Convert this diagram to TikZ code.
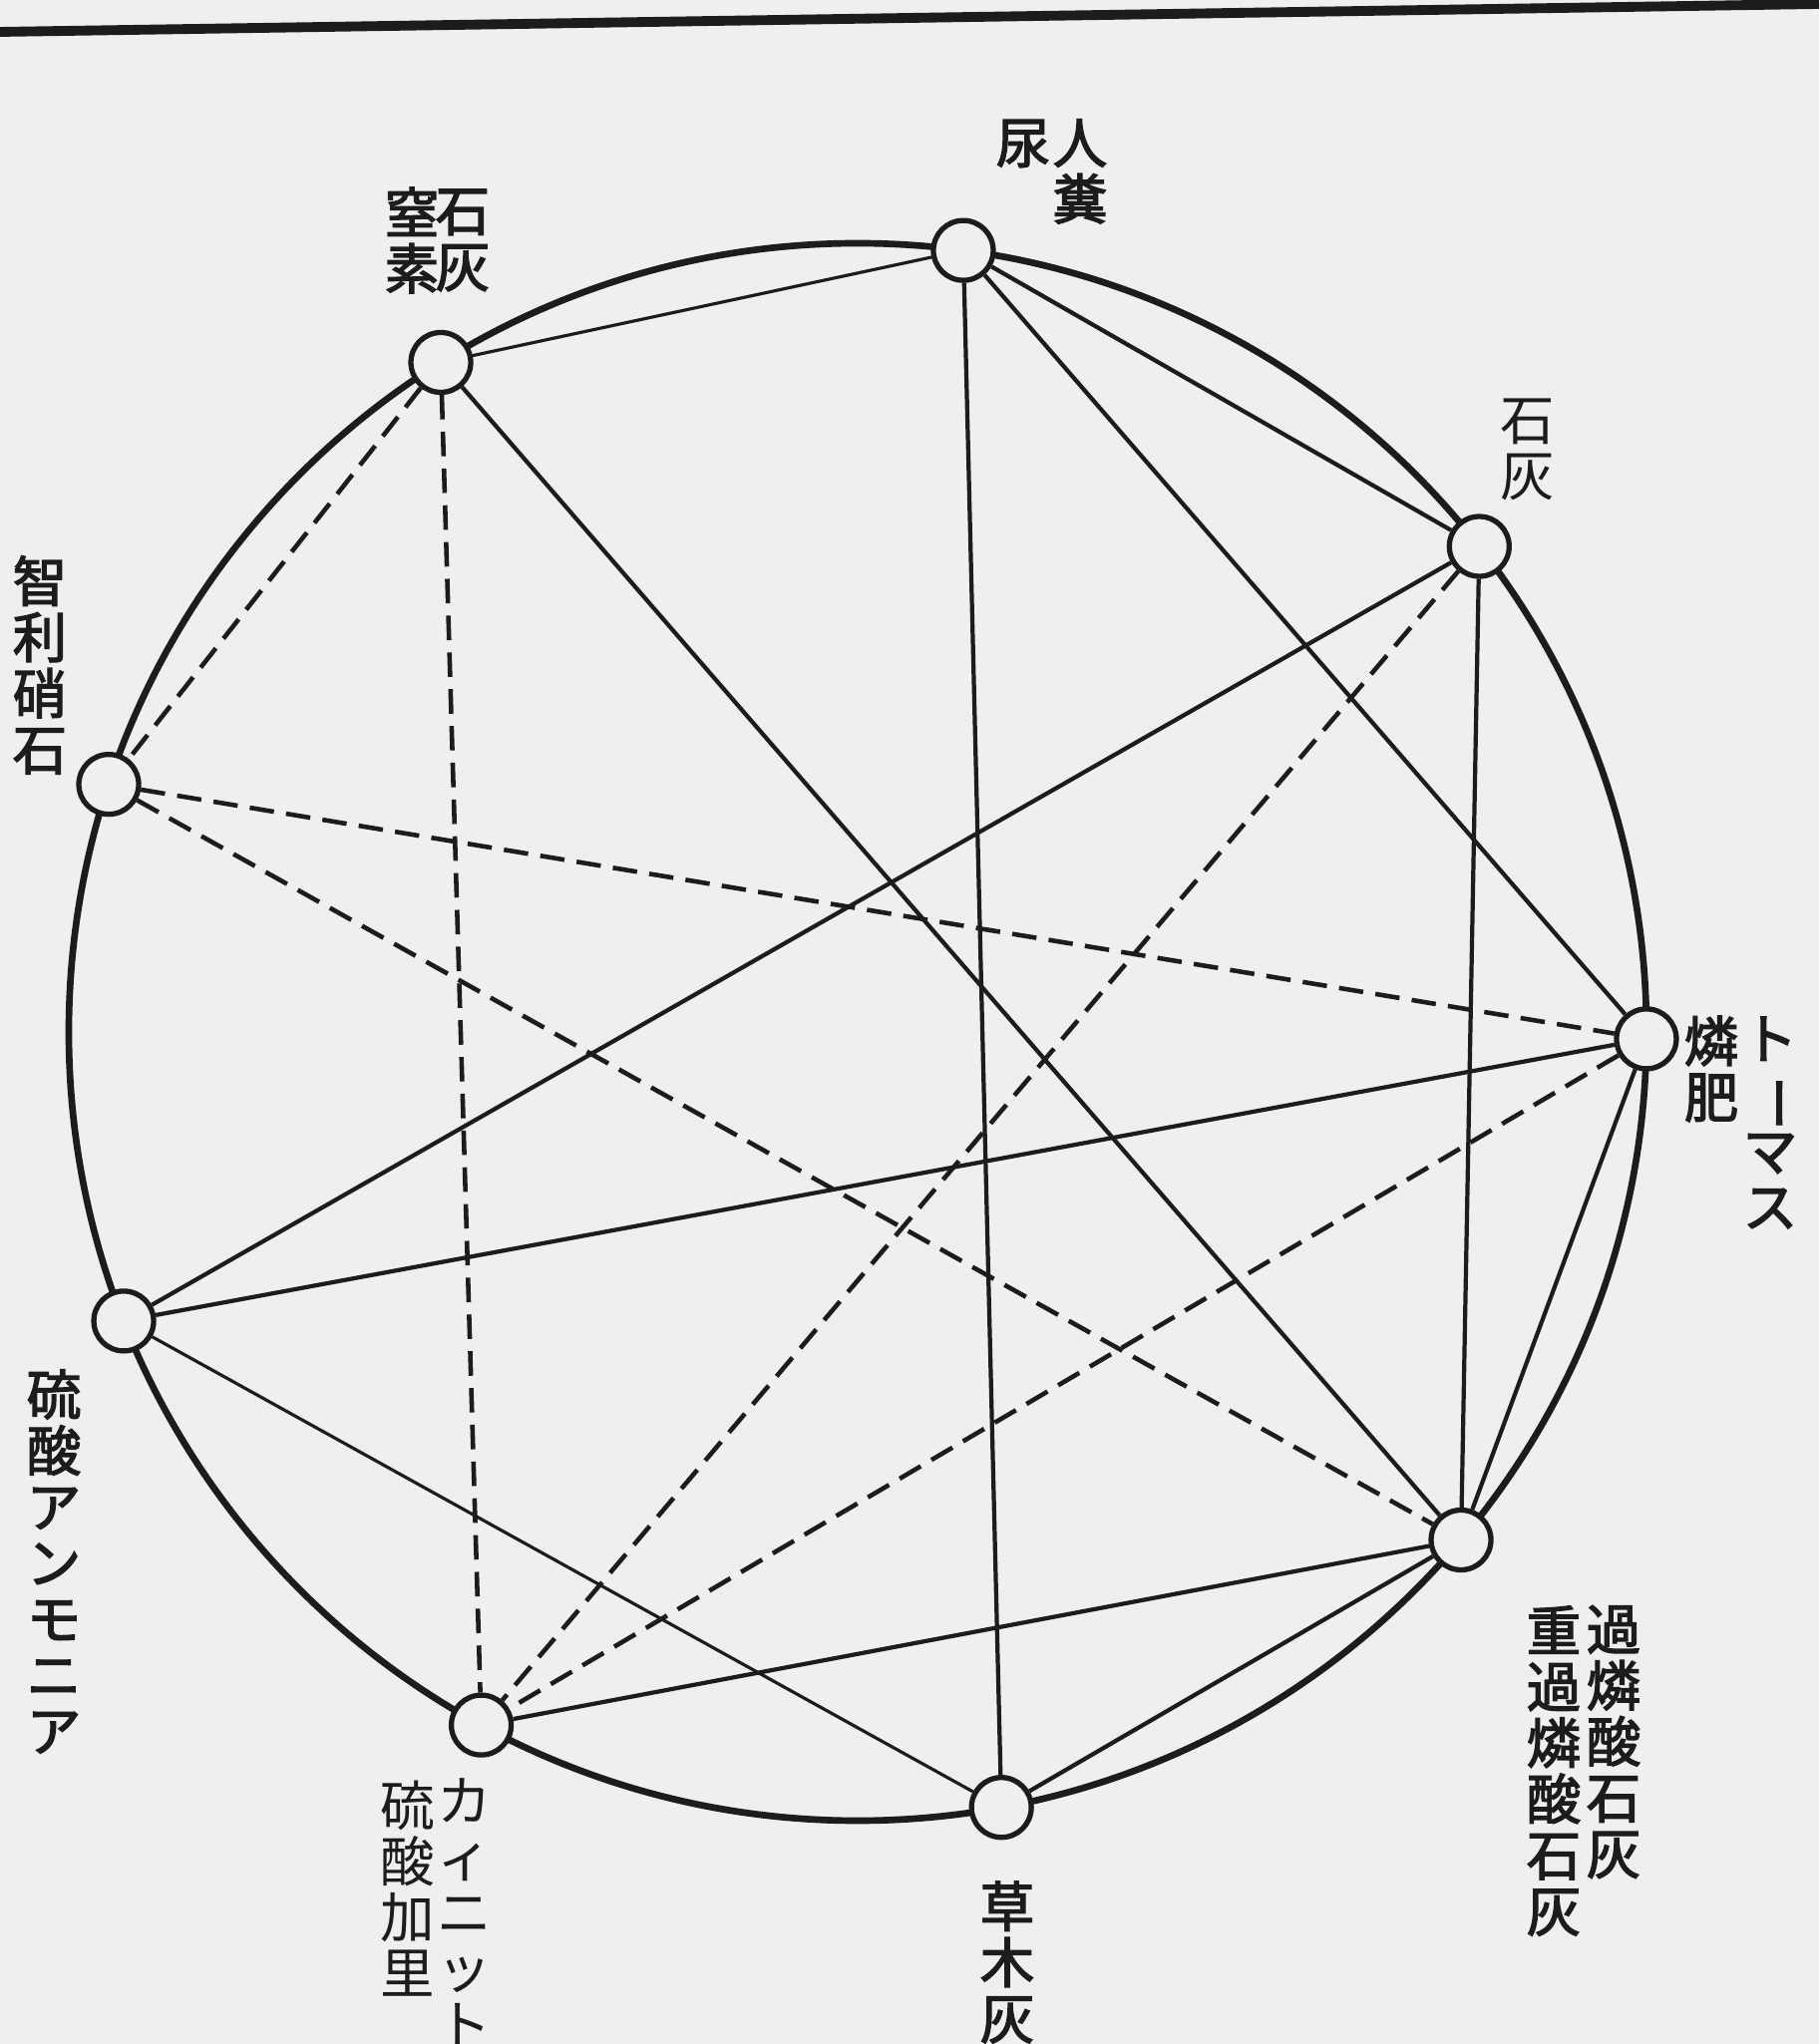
\documentclass[tikz,border=0pt]{standalone}
\usepackage{fontspec}
\newfontfamily\cjk{Noto Sans CJK JP}
\newfontfamily\cjkb[FakeBold=2.5]{Noto Sans CJK JP}
\usetikzlibrary{positioning}
\definecolor{paper}{RGB}{239,239,237}
\definecolor{ink}{RGB}{28,28,28}
\newcommand\tatebar{\rotatebox[origin=c]{-90}{ー}}

\begin{document}
\begin{tikzpicture}[
  hub/.style={circle,draw=ink,fill=paper,line width=1.5pt,
              minimum size=0.6cm,inner sep=0pt},
  lnk/.style={draw=ink,line width=1.2pt},
  lnkthin/.style={lnk,line width=0.9pt},
  dsh/.style={lnk,line width=1.3pt,dash pattern=on 7pt off 3.5pt},
  lbl/.style={font=\cjkb\fontsize{15.5pt}{16pt}\selectfont,
              align=center,inner sep=0pt,text=ink},
  lblm/.style={lbl,font=\cjk\fontsize{15.5pt}{16pt}\selectfont},
]
\useasboundingbox[fill=paper] (-8.60,-10.15) rectangle (9.64,10.35);

% page rule
\draw[ink,line width=2.8pt] (-8.60,10.03) -- (9.64,10.31);

% rim
\draw[ink,line width=1.9pt] (0,0) circle (7.91);

% fertilisers on the rim
\node[hub] (nyo)    at (82.3:7.91)  {};
\node[hub] (chisso) at (121.9:7.91) {};
\node[hub] (chiri)  at (161.7:7.91) {};
\node[hub] (ryuan)  at (201.5:7.91) {};
\node[hub] (kainit) at (241.5:7.91) {};
\node[hub] (soboku) at (280.5:7.91) {};
\node[hub] (karin)  at (319.9:7.91) {};
\node[hub] (thomas) at (359.5:7.91) {};
\node[hub] (sekkai) at (38.0:7.91)  {};

% labels (vertical columns, right column read first)
\node[lbl]  (t-nyo1)    at (2.23,8.63)   {人\\糞};
\node[lbl]  (t-nyo2)    at (1.66,8.91)   {尿};
\node[lbl]  (t-chisso1) at (-3.96,7.94)  {石\\灰};
\node[lbl]  (t-chisso2) at (-4.47,7.94)  {窒\\素};
\node[lblm] (t-sekkai)  at (6.72,5.84)   {石\\灰};
\node[lbl]  (t-chiri)   at (-8.20,3.68)  {智\\利\\硝\\石};
\node[lbl]  (t-thomas1) at (9.15,-0.91)  {ト\\\tatebar\\マ\\ス};
\node[lbl]  (t-thomas2) at (8.56,-0.37)  {燐\\肥};
\node[lbl]  (t-ryuan)   at (-8.06,-5.31) {硫\\酸\\ア\\ン\\モ\\ニ\\ア};
\node[lbl]  (t-karin1)  at (7.58,-7.12)  {過\\燐\\酸\\石\\灰};
\node[lbl]  (t-karin2)  at (6.98,-7.41)  {重\\過\\燐\\酸\\石\\灰};
\node[lblm] (t-kainit1) at (-3.94,-8.83) {カ\\ィ\\ニ\\ッ\\ト};
\node[lblm] (t-kainit2) at (-4.51,-8.59) {硫\\酸\\加\\里};
\node[lbl]  (t-soboku)  at (1.50,-9.33)  {草\\木\\灰};

% solid links
\draw[lnkthin] (nyo) -- (chisso);
\draw[lnk] (nyo) -- (sekkai);
\draw[lnk] (nyo) -- (thomas);
\draw[lnk] (nyo) -- (soboku);
\draw[lnk] (chisso) -- (karin);
\draw[lnk] (sekkai) -- (ryuan);
\draw[lnk] (sekkai) -- (karin);
\draw[lnk] (thomas) -- (ryuan);
\draw[lnk] (thomas) -- (karin);
\draw[lnkthin] (ryuan) -- (soboku);
\draw[lnk] (karin) -- (kainit);
\draw[lnk] (karin) -- (soboku);

% dashed links
\draw[dsh] (chisso) -- (chiri);
\draw[dsh] (chisso) -- (kainit);
\draw[dsh] (chiri) -- (thomas);
\draw[dsh] (chiri) -- (karin);
\draw[dsh] (sekkai) -- (kainit);
\draw[dsh] (thomas) -- (kainit);
\end{tikzpicture}
\end{document}
